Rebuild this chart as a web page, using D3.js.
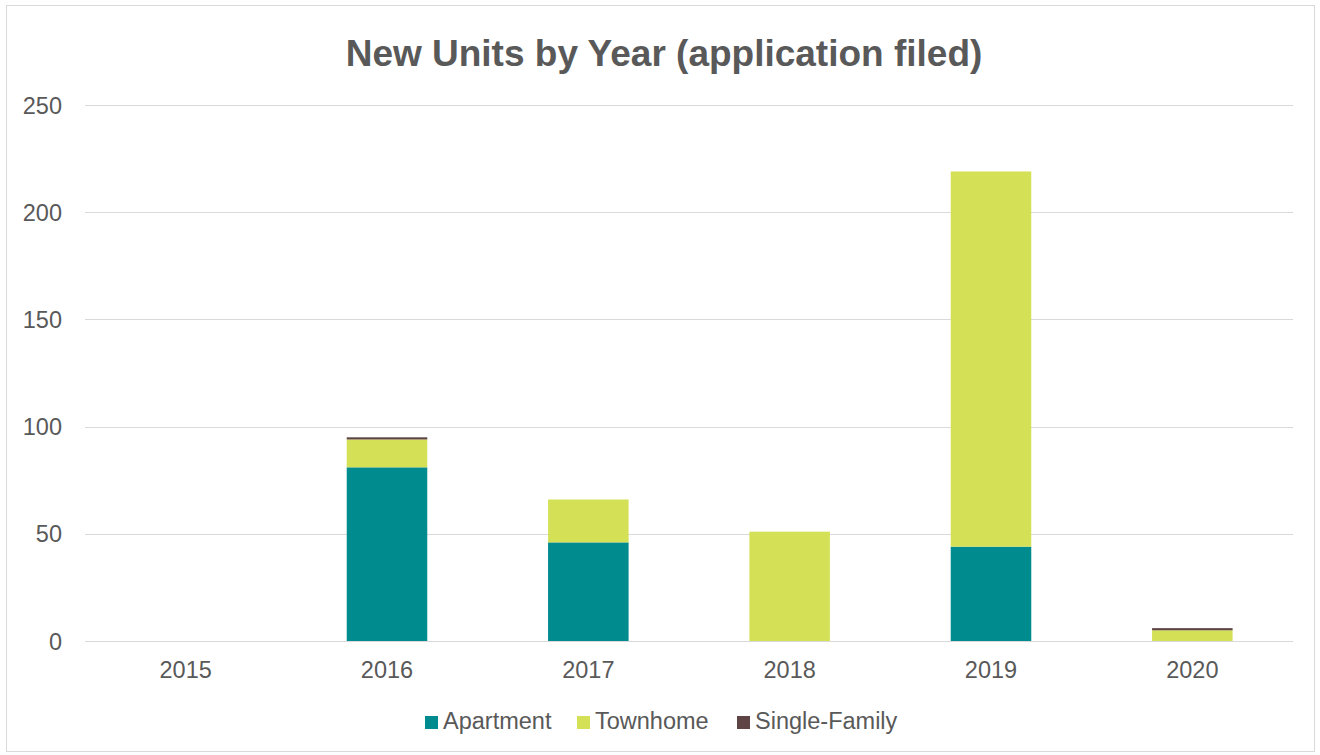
<!DOCTYPE html>
<html><head><meta charset="utf-8">
<script src="https://cdn.jsdelivr.net/npm/d3@7"></script>
<style>body{margin:0;background:#fff;}svg{display:block;font-family:"Liberation Sans",Arial,sans-serif;}</style>
</head><body>
<svg id="c" width="1320" height="755"></svg>
<script>
const years = ["2015","2016","2017","2018","2019","2020"];
const apartment = [0, 81, 46, 0, 44, 0];
const townhome = [0, 13, 20, 51, 175, 5];
const singleFamily = [0, 1, 0, 0, 0, 1];
const yTicks = [0, 50, 100, 150, 200, 250];
const seriesNames = ["Apartment","Townhome","Single-Family"];
const colors = ["#008B8E","#D4E157","#5E4444"];

const svg = d3.select("#c");
svg.append("rect").attr("x",6.5).attr("y",5.5).attr("width",1308).attr("height",746)
  .attr("fill","#fff").attr("stroke","#d9d9d9").attr("stroke-width",1);

const m = {l:85, r:1293, t:105, b:641};
const x = d3.scaleBand().domain(years).range([m.l, m.r]).paddingInner(0.6).paddingOuter(0.3);
const y = d3.scaleLinear().domain([0,250]).range([m.b, m.t]);

svg.append("text").attr("x",664).attr("y",66).attr("text-anchor","middle")
  .attr("font-size",37).attr("font-weight","bold").attr("fill","#595959")
  .text("New Units by Year (application filed)");

const gy = svg.append("g");
yTicks.forEach(t=>{
  gy.append("line").attr("x1",m.l).attr("x2",m.r).attr("y1",Math.round(y(t))+0.5).attr("y2",Math.round(y(t))+0.5)
    .attr("stroke","#d9d9d9").attr("stroke-width",1);
  gy.append("text").attr("x",62).attr("y",y(t)+8.5).attr("text-anchor","end")
    .attr("font-size",23.5).attr("fill","#595959").text(t);
});

const data = years.map((yr,i)=>({year:yr, Apartment:apartment[i], Townhome:townhome[i], "Single-Family":singleFamily[i]}));
const stack = d3.stack().keys(seriesNames)(data);
svg.append("g").selectAll("g").data(stack).join("g").attr("fill",(d,i)=>colors[i])
  .selectAll("rect").data(d=>d).join("rect")
  .attr("x",d=>x(d.data.year)).attr("width",x.bandwidth())
  .attr("y",d=>y(d[1])).attr("height",d=>y(d[0])-y(d[1]));

years.forEach(yr=>{
  svg.append("text").attr("x",x(yr)+x.bandwidth()/2).attr("y",678).attr("text-anchor","middle")
    .attr("font-size",23.5).attr("fill","#595959").text(yr);
});

const legX = [425, 577, 737];
seriesNames.forEach((n,i)=>{
  svg.append("rect").attr("x",legX[i]).attr("y",716).attr("width",13).attr("height",13).attr("fill",colors[i]);
  svg.append("text").attr("x",legX[i]+18).attr("y",729).attr("font-size",23.5).attr("fill","#595959").text(n);
});
</script>
</body></html>
